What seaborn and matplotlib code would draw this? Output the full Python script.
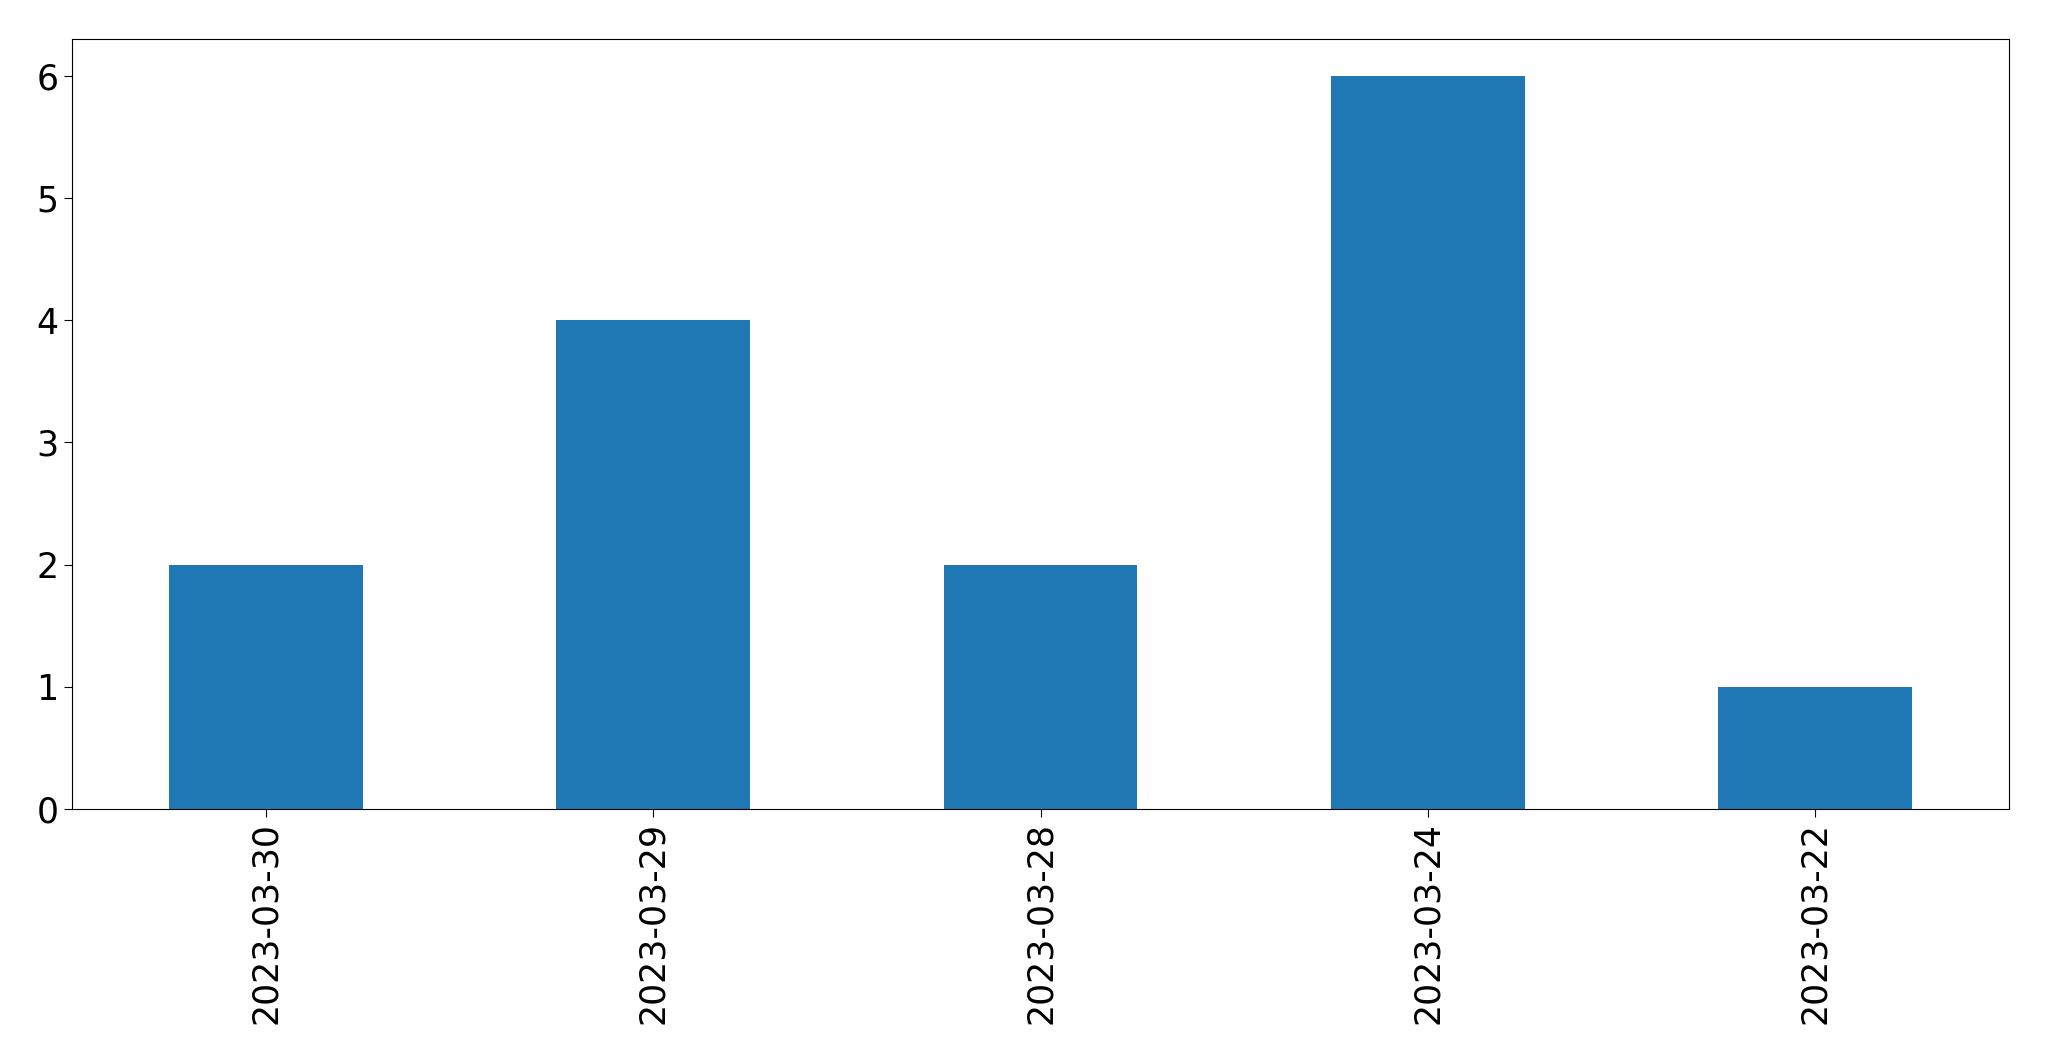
import pandas as pd
import matplotlib
matplotlib.use("Agg")
import matplotlib.pyplot as plt
import seaborn as sns

dates = ['2023-03-30', '2023-03-29', '2023-03-28', '2023-03-24', '2023-03-22']
counts = [2, 4, 2, 6, 1]

df = pd.DataFrame({'date': dates, 'count': counts})

plt.rcParams['font.family'] = ['DejaVu Sans']
plt.rcParams['font.size'] = 25

fig = plt.figure(figsize=(20.49, 10.61), dpi=100)
ax = fig.add_axes([72 / 2049, 1 - 809 / 1061, (2009 - 72) / 2049, (809 - 39) / 1061])

sns.barplot(data=df, x='date', y='count', color='#1f77b4', saturation=1,
            width=0.5, ax=ax, order=dates)

ax.set_xlim(-0.5, 4.5)
ax.set_ylim(0, 6.3)
ax.set_xlabel("")
ax.set_ylabel("")
ax.tick_params(axis='x', labelrotation=90)
ax.tick_params(length=5.5, pad=4)
for s in ax.spines.values():
    s.set_visible(True)
    s.set_color('black')

fig.savefig('out.png', dpi=100)
